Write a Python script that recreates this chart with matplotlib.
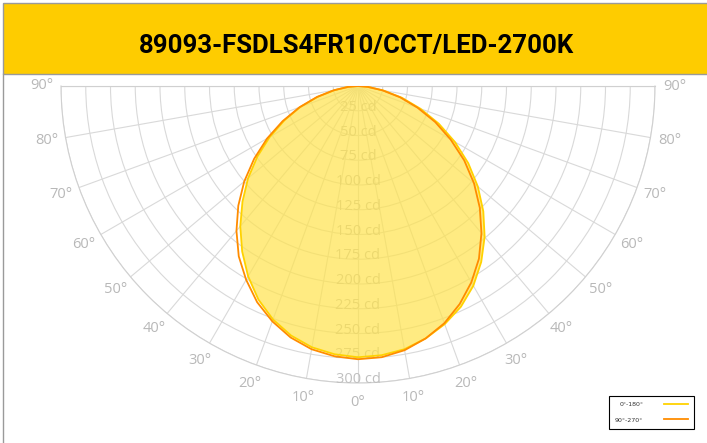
import numpy as np
import matplotlib.pyplot as plt
from matplotlib.patches import Rectangle
from matplotlib.lines import Line2D

title = '89093-FSDLS4FR10/CCT/LED-2700K'

# intensity (cd) every 5 degrees from nadir (0) to horizontal (90)
angles = [0, 5, 10, 15, 20, 25, 30, 35, 40, 45, 50, 55, 60, 65, 70, 75, 80, 85, 90]
c0 = [274, 273, 270, 264, 256, 246, 233, 217, 199, 179, 158, 136, 113, 90, 67, 46, 26, 10, 0]
c180 = [274, 272, 268, 261, 251, 238, 222, 204, 185, 165, 145, 124, 103, 82, 62, 42, 24, 10, 0]
c90 = [276, 275, 271, 264, 255, 243, 229, 213, 194, 174, 153, 131, 108, 86, 64, 44, 25, 10, 0]
c270 = [276, 274, 270, 263, 253, 241, 226, 210, 191, 171, 150, 128, 106, 84, 63, 43, 25, 10, 0]

rings = [25, 50, 75, 100, 125, 150, 175, 200, 225, 250, 275, 300]
theta_ticks = [-90, -80, -70, -60, -50, -40, -30, -20, -10, 0, 10, 20, 30, 40, 50, 60, 70, 80, 90]
series_labels = ['0°-180°', '90°-270°']

W, H = 707, 443
fig = plt.figure(figsize=(W / 100, H / 100), dpi=100)

# header band
fig.patches.append(Rectangle((3 / W, 1 - 74 / H), 1, 71 / H, transform=fig.transFigure,
                             facecolor='#FECC00', edgecolor='#9a9a9a', lw=1))
fig.add_artist(Line2D([3 / W, 3 / W], [0, 1 - 74 / H], color='#9a9a9a', lw=1))
fig.text(357 / W, 1 - 46 / H, title, ha='center', va='center',
         fontsize=18.5, fontweight='bold', family='Roboto')

# half-disc sits in the middle of a square box (polar wedge keeps equal aspect)
R = 297
cx, cy = 358, 86 + R / 2
ax = fig.add_axes([(cx - R) / W, 1 - (cy + R) / H, 2 * R / W, 2 * R / H], projection='polar')
ax.set_theta_zero_location('S')
ax.set_thetamin(-90)
ax.set_thetamax(90)
ax.set_ylim(0, 300)
ax.set_axisbelow(True)

ax.set_thetagrids(theta_ticks, labels=[f'{abs(a)}°' for a in theta_ticks])
ax.set_yticks(rings)
ax.set_yticklabels([])
ax.grid(color='#d9d9d9', lw=0.8)
for s in ax.spines.values():
    s.set_color('#d0d0d0')
    s.set_linewidth(0.8)
ax.tick_params(axis='x', colors='#b8b8b8', labelsize=10.5, pad=7, length=0)
for lab in ax.get_xticklabels():
    lab.set_family('Open Sans')

for r in rings:
    ax.text(0, r, f'{r} cd', ha='center', va='baseline', color='#c0c0c0',
            fontsize=10.5, family='Open Sans', zorder=3)

a = np.radians(angles)
th_y = np.concatenate([-a[::-1], a[1:]])
r_y = np.concatenate([np.array(c180)[::-1], np.array(c0)[1:]])
th_o = th_y
r_o = np.concatenate([np.array(c270)[::-1], np.array(c90)[1:]])

ax.fill(th_y, r_y, color='#FFE34D', alpha=0.7, lw=0, zorder=4)
l1, = ax.plot(th_y, r_y, color='#FFD200', lw=1.3, zorder=5, label=series_labels[0])
l2, = ax.plot(th_o, r_o, color='#FF8C00', lw=1.3, zorder=6, label=series_labels[1])

leg = ax.legend(handles=[l1, l2], loc='lower right',
                bbox_to_anchor=(697 / W, 1 - 432 / H), bbox_transform=fig.transFigure,
                markerfirst=False, fancybox=False, edgecolor='black', framealpha=1,
                fontsize=4.5, handlelength=3.8, handletextpad=3.3, borderpad=1.0,
                labelspacing=1.6)
leg.get_frame().set_linewidth(0.8)
for t in leg.get_texts():
    t.set_color('#333333')

fig.savefig('out.png', dpi=100)
